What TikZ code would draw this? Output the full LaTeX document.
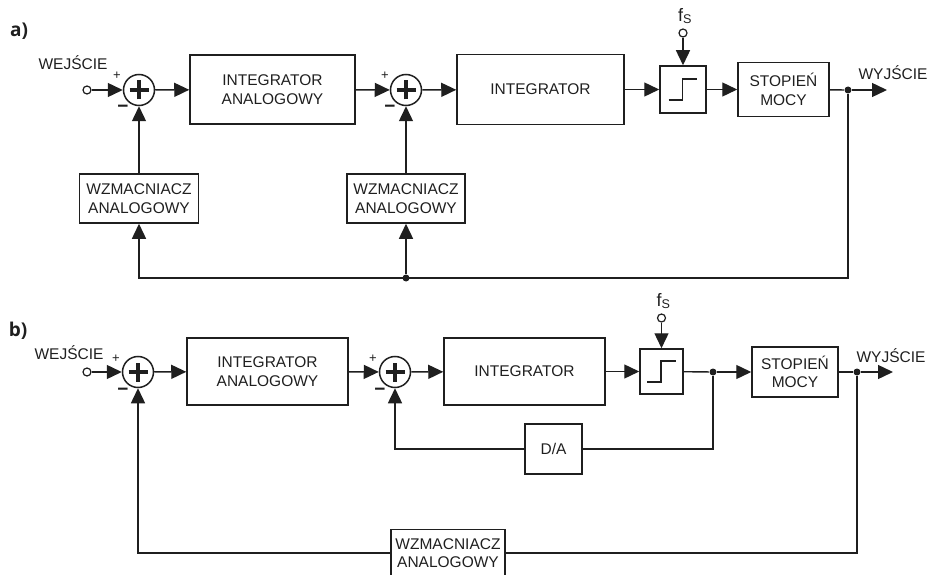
\documentclass[tikz,border=0pt]{standalone}
\usepackage{fontspec}
\setmainfont{Liberation Sans}
\newfontfamily\labfont{Open Sans}
\usetikzlibrary{arrows.meta}
\begin{document}
\begin{tikzpicture}[x=1pt,y=-1pt,
  line width=1.4pt, draw=black!88,
  every node/.style={font=\fontsize{15.5}{18.5}\selectfont, text=black!88},
  box/.style={draw, line width=1.5pt, inner sep=0pt, align=center},
  sumnode/.style={circle, draw, minimum size=31pt, inner sep=0pt, line width=1.5pt,
    path picture={\draw[line width=3.8pt] (path picture bounding box.center) +(-9.5pt,0) -- +(9.5pt,0)
      (path picture bounding box.center) +(0,-9.5pt) -- +(0,9.5pt);}},
  quant/.style={box, path picture={\draw[line width=1.5pt] ([shift={(-14.5pt,-10.5pt)}]path picture bounding box.center) -- ++(14pt,0) -- ++(0,21pt) -- ++(14.5pt,0);}},
  port/.style={circle, draw, minimum size=8pt, inner sep=0pt, line width=1.2pt, fill=white},
  jdot/.style={circle, fill=black!88, minimum size=7pt, inner sep=0pt},
  arr/.style={-{Triangle[length=15pt,width=14pt]}},
  sgn/.style={font=\fontsize{13}{13}\selectfont},
  msgn/.style={font=\bfseries\fontsize{19}{19}\selectfont},
  fsl/.style={font=\fontsize{18}{18}\selectfont},
  lab/.style={font=\labfont\bfseries\fontsize{19}{19}\selectfont}
]
\useasboundingbox (0,0) rectangle (927,575);
\clip (0,0) rectangle (927,575);

% ---------------- a) ----------------
\node[lab] (la) at (19,31) {a)};
\node (wejA) at (73,63) {WEJŚCIE};
\node[port] (inA) at (87,90) {};
\node[sumnode] (sA1) at (139,90) {};
\node[sgn] (pA1) at (117,76) {+};
\node[msgn] (mA1) at (123,109) {−};
\node[box, minimum width=165pt, minimum height=69pt] (iaA) at (272.5,89.5) {INTEGRATOR\\ANALOGOWY};
\node[sumnode] (sA2) at (406,90) {};
\node[sgn] (pA2) at (385,76) {+};
\node[msgn] (mA2) at (390,109) {−};
\node[box, minimum width=167pt, minimum height=70pt] (intA) at (540.5,89.5) {INTEGRATOR};
\node[quant, minimum width=46pt, minimum height=47pt] (qA) at (683,89.5) {};
\node[port] (fsA) at (683,33) {};
\node[fsl] (fsAt) at (685,16) {f\textsubscript{S}};
\node[box, minimum width=91pt, minimum height=54pt] (stA) at (783.5,89.5) {STOPIEŃ\\MOCY};
\node[jdot] (dA) at (848,90) {};
\coordinate (outA) at (887,90);
\node (wyjA) at (893,73) {WYJŚCIE};
\node[box, minimum width=119pt, minimum height=49pt] (wzA1) at (139,198.5) {WZMACNIACZ\\ANALOGOWY};
\node[box, minimum width=118pt, minimum height=49pt] (wzA2) at (406,198.5) {WZMACNIACZ\\ANALOGOWY};
\coordinate (cA) at (848,278);
\node[jdot] (jA) at (406,278) {};

\draw[arr] (inA) -- (sA1);
\draw[arr] (sA1) -- (iaA);
\draw[arr] (iaA) -- (sA2);
\draw[arr] (sA2) -- (intA);
\draw[arr] (intA) -- (qA);
\draw[arr] (qA) -- (stA);
\draw (stA) -- (dA);
\draw[arr] (dA) -- (outA);
\draw[arr] (fsA) -- (qA);
\draw[arr] (dA) -- (cA) -| (wzA1.south);
\draw[arr] (jA) -- (wzA2);
\draw[arr] (wzA1) -- (sA1);
\draw[arr] (wzA2) -- (sA2);

% ---------------- b) ----------------
\node[lab] (lb) at (18,331) {b)};
\node (wejB) at (69,353) {WEJŚCIE};
\node[port] (inB) at (87,372) {};
\node[sumnode] (sB1) at (138,372) {};
\node[sgn] (pB1) at (116,359) {+};
\node[msgn] (mB1) at (123,392) {−};
\node[box, minimum width=161pt, minimum height=67pt] (iaB) at (267.5,371.5) {INTEGRATOR\\ANALOGOWY};
\node[sumnode] (sB2) at (395,372) {};
\node[sgn] (pB2) at (373,359) {+};
\node[msgn] (mB2) at (380,392) {−};
\node[box, minimum width=161pt, minimum height=67pt] (intB) at (524.5,371.5) {INTEGRATOR};
\node[quant, minimum width=43pt, minimum height=45pt] (qB) at (661.5,371.5) {};
\node[port] (fsB) at (661.5,318) {};
\node[fsl] (fsBt) at (663.5,301) {f\textsubscript{S}};
\node[jdot] (dB1) at (713,372) {};
\node[box, minimum width=86pt, minimum height=50pt] (stB) at (795,372) {STOPIEŃ\\MOCY};
\node[jdot] (dB2) at (857,372) {};
\coordinate (outB) at (893,372);
\node (wyjB) at (891,356) {WYJŚCIE};
\node[box, minimum width=57pt, minimum height=50pt] (da) at (553.5,449) {D/A};
\node[box, minimum width=114pt, minimum height=47pt] (wzB) at (448,553) {WZMACNIACZ\\ANALOGOWY};

\draw[arr] (inB) -- (sB1);
\draw[arr] (sB1) -- (iaB);
\draw[arr] (iaB) -- (sB2);
\draw[arr] (sB2) -- (intB);
\draw[arr] (intB) -- (qB);
\draw (qB) -- (dB1);
\draw[arr] (dB1) -- (stB);
\draw (stB) -- (dB2);
\draw[arr] (dB2) -- (outB);
\draw[arr] (fsB) -- (qB);
\draw (dB1) |- (da);
\draw[arr] (da) -| (sB2);
\draw (dB2) |- (wzB);
\draw[arr] (wzB) -| (sB1);
\end{tikzpicture}
\end{document}
